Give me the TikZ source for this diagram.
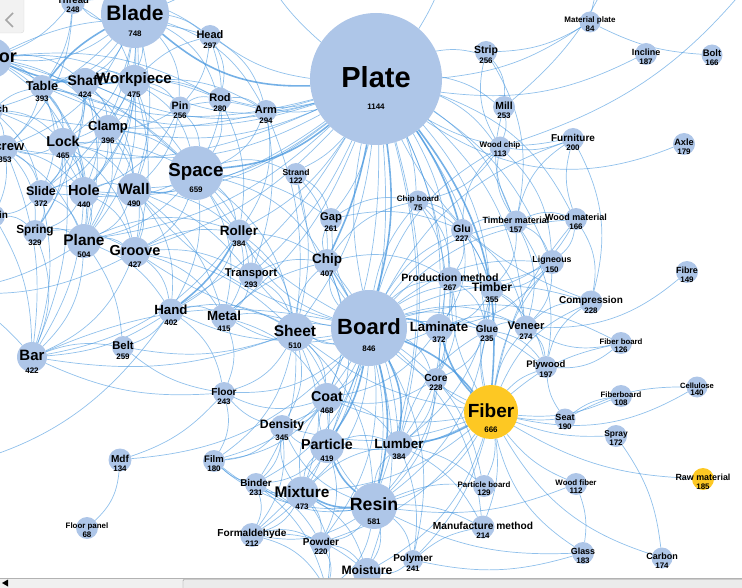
\documentclass[tikz,border=0pt]{standalone}
\usepackage{fontspec}
\setmainfont{Liberation Sans}
\usetikzlibrary{positioning}
\definecolor{termblue}{RGB}{174,198,232}
\definecolor{termgold}{RGB}{253,200,35}
\definecolor{linkblue}{RGB}{70,150,222}
\pgfdeclarelayer{links}
\pgfdeclarelayer{labels}
\pgfdeclarelayer{chrome}
\pgfsetlayers{links,main,labels,chrome}
\tikzset{
  term/.style={circle, inner sep=0pt, outer sep=0pt},
  termlabel/.style={inner sep=0pt, text=black},
  termcount/.style={inner sep=0pt, text=black, font=\bfseries\fontsize{8}{8}\selectfont},
  link/.style={draw=linkblue, line width=0.7pt, opacity=0.6},
  heavylink/.style={link, line width=1.6pt, opacity=0.75},
}
% term: [fill]{name}{x}{y}{radius}{label}{count}{label size}
\newcommand{\term}[8][termblue]{%
  \node[term, fill=#1, minimum size={2*#5*1pt}] (#2) at (#3,#4) {};
  \pgfmathsetmacro{\cntdrop}{1.5-#8}
  \begin{pgfonlayer}{labels}
    \node[termlabel, font=\bfseries\fontsize{#8}{#8}\selectfont] (#2-lbl) at ([yshift=1.5pt]#2.center) {#6};
    \if\relax\detokenize{#7}\relax\else
      \node[termcount] (#2-cnt) at ([yshift=\cntdrop pt]#2.center) {#7};
    \fi
  \end{pgfonlayer}
}

\begin{document}
\begin{tikzpicture}[x=1pt, y=-1pt]
\useasboundingbox (0,0) rectangle (742,588);
\clip (0,0) rectangle (742,588);
    % define terms
    % tools
    \term{thread}{73}{2}{12}{Thread}{248}{9.5}
    \term{blade}{135}{14}{34}{Blade}{748}{21}
    \term{motor}{-8}{58}{20}{Motor}{}{18}
    \term{table}{42}{87}{12}{Table}{393}{12.8}
    \term{shaft}{85}{82}{14}{Shaft}{424}{14}
    \term{workpiece}{134}{81}{16}{Workpiece}{475}{15}
    \term{head}{210}{36}{11}{Head}{297}{11}
    \term{pin}{180}{107}{10.5}{Pin}{256}{10.7}
    \term{rod}{220}{99}{11.5}{Rod}{280}{11}
    \term{arm}{266}{111}{11}{Arm}{294}{11}
    \term{switch}{-8}{110}{11}{Switch}{}{10}
    \term{clamp}{108}{129}{14}{Clamp}{396}{13}
    \term{lock}{63}{143}{15}{Lock}{465}{14.3}
    \term{screw}{5}{148}{13}{Screw}{353}{13}
    \term{space}{196}{173}{27}{Space}{659}{18.7}
    \term{strand}{296}{174}{11}{Strand}{122}{8.5}
    \term{slide}{41}{193}{13}{Slide}{372}{12.5}
    \term{hole}{84}{192}{15}{Hole}{440}{14.6}
    \term{wall}{134}{190}{17}{Wall}{490}{15.4}
    \term{chain}{-6}{216}{11}{Chain}{}{10}
    \term{spring}{35}{232}{12}{Spring}{329}{11.8}
    \term{plane}{84}{241}{17}{Plane}{504}{15.4}
    \term{groove}{135}{252}{15}{Groove}{427}{14.5}
    \term{roller}{239}{232}{12.5}{Roller}{384}{13.5}
    \term{transport}{251}{275}{12.5}{Transport}{293}{11.3}
    \term{hand}{171}{311}{12.5}{Hand}{402}{13.3}
    \term{metal}{224}{317}{13}{Metal}{415}{13.3}
    \term{bar}{32}{357}{15}{Bar}{422}{15}
    \term{belt}{123}{347}{11}{Belt}{259}{11.3}
    % plate
    \term{plate}{376}{79}{66}{Plate}{1144}{29}
    \term{strip}{486}{52}{11}{Strip}{256}{10.5}
    \term{mill}{504}{107}{11}{Mill}{253}{10.4}
    \term{woodchip}{500}{147}{10.5}{Wood chip}{113}{8}
    \term{furniture}{573}{139}{11}{Furniture}{200}{10}
    \term{matplate}{590}{22}{10.5}{Material plate}{84}{8}
    \term{incline}{646}{54}{11}{Incline}{187}{9}
    \term{bolt}{712}{55}{10.5}{Bolt}{166}{9.5}
    \term{axle}{684}{144}{11}{Axle}{179}{9.2}
    % board
    \term{chipboard}{418}{201}{10.5}{Chip board}{75}{8}
    \term{gap}{331}{219}{11}{Gap}{261}{11.2}
    \term{chip}{327}{262}{13}{Chip}{407}{13.5}
    \term{glu}{462}{230}{11}{Glu}{227}{10.4}
    \term{timbermat}{516}{222}{11.5}{Timber material}{157}{9}
    \term{woodmat}{576}{219}{11}{Wood material}{166}{9}
    \term{ligneous}{552}{262}{12}{Ligneous}{150}{8.8}
    \term{prodmethod}{450}{279}{12}{Production method}{267}{10.6}
    \term{timber}{492}{289}{11.5}{Timber}{355}{12.2}
    \term{fibre}{687}{272}{11}{Fibre}{149}{8.9}
    \term{compression}{591}{302}{11.5}{Compression}{228}{10}
    \term{board}{369}{328}{38}{Board}{846}{22}
    \term{sheet}{295}{332}{19}{Sheet}{510}{15.5}
    \term{laminate}{439}{328}{14}{Laminate}{372}{13.3}
    \term{glue}{487}{330}{11}{Glue}{235}{10}
    \term{veneer}{526}{327}{11.5}{Veneer}{274}{11.2}
    \term{plywood}{546}{367}{11}{Plywood}{197}{9.5}
    \term{fiberbd}{621}{343}{11}{Fiber board}{126}{7.8}
    \term{floor}{224}{393}{11}{Floor}{243}{10.1}
    \term{core}{436}{379}{11}{Core}{228}{10.2}
    % fiber
    \term[termgold]{fiber}{491}{412}{27}{Fiber}{666}{19}
    \term{coat}{327}{398}{15}{Coat}{468}{14.3}
    \term{density}{282}{427}{12}{Density}{345}{12.2}
    \term{particle}{327}{446}{17}{Particle}{419}{14.3}
    \term{lumber}{399}{445}{14}{Lumber}{384}{13.4}
    \term{fiberboard}{621}{396}{11}{Fiberboard}{108}{7.8}
    \term{cellulose}{697}{387}{10.5}{Cellulose}{140}{7.6}
    \term{seat}{565}{419}{10.5}{Seat}{190}{9}
    \term{spray}{616}{436}{11}{Spray}{172}{8.4}
    \term{partboard}{484}{486}{11}{Particle board}{129}{7.9}
    \term{woodfiber}{576}{484}{11}{Wood fiber}{112}{7.9}
    \term[termgold]{rawmat}{703}{479}{11}{Raw material}{185}{8.9}
    \term{glass}{583}{553}{11}{Glass}{183}{8.9}
    \term{carbon}{662}{558}{10.5}{Carbon}{174}{9}
    \term{manumethod}{483}{527}{11.5}{Manufacture method}{214}{10.2}
    % resin
    \term{mdf}{120}{460}{11.5}{Mdf}{134}{10.1}
    \term{floorpanel}{87}{528}{11}{Floor panel}{68}{7.9}
    \term{film}{214}{461}{11}{Film}{180}{9.5}
    \term{binder}{256}{484}{11}{Binder}{231}{9.9}
    \term{mixture}{302}{493}{16.5}{Mixture}{473}{15.4}
    \term{resin}{374}{506}{23}{Resin}{581}{17.7}
    \term{formaldehyde}{252}{535}{12}{Formaldehyde}{212}{10.1}
    \term{powder}{321}{543}{11}{Powder}{220}{10}
    \term{polymer}{413}{560}{10}{Polymer}{241}{10}
    \term{moisture}{367}{572}{14}{Moisture}{}{12.2}
    \node[term, fill=termblue, minimum size=24pt] (lowterm) at (327,590) {};
    % ends of links that leave the window
    \coordinate (offnw) at (250,-60);
    \coordinate (offn) at (450,-70);
    \coordinate (offne) at (620,-50);
    \coordinate (offfar) at (760,-30);
    \coordinate (offw) at (-60,290);
    \coordinate (offsw) at (-60,470);
    % draw links
    \begin{pgfonlayer}{links}
    \foreach \a/\b/\c in {
        blade/thread/15, blade/motor/15, blade/table/15, blade/shaft/10, blade/workpiece/10,
        blade/head/10, blade/pin/15, blade/rod/15, blade/arm/15, blade/lock/15, blade/clamp/10,
        blade/wall/10, blade/hole/15, blade/slide/15, blade/plane/10, blade/screw/15, blade/switch/10,
        thread/motor/10, thread/table/10, thread/workpiece/15, thread/head/15, thread/screw/15,
        motor/table/10, motor/shaft/15, motor/lock/15, motor/clamp/15, motor/workpiece/10,
        motor/space/10, motor/head/15, motor/rod/12, motor/hole/15,
        table/shaft/15, table/workpiece/10, table/lock/15, table/clamp/15, table/slide/15,
        table/hole/12, table/screw/10, table/space/12, table/plane/15,
        shaft/workpiece/20, shaft/lock/15, shaft/hole/15, shaft/clamp/15, shaft/plane/10,
        shaft/wall/15, shaft/slide/15, shaft/spring/10, shaft/rod/10, shaft/space/12,
        workpiece/clamp/15, workpiece/lock/15, workpiece/pin/15, workpiece/rod/10, workpiece/wall/15,
        workpiece/space/15, workpiece/hole/12, workpiece/plane/15, workpiece/head/10,
        workpiece/arm/12, workpiece/groove/10,
        head/rod/15, head/arm/15, head/pin/12, head/space/15,
        pin/rod/15, pin/arm/10, pin/space/15, pin/clamp/10, pin/wall/12, pin/hole/15,
        rod/arm/15, rod/space/15, rod/roller/12, arm/space/15, arm/roller/15, arm/sheet/10, arm/transport/10,
        switch/lock/15, switch/table/10, switch/screw/10, switch/slide/12, switch/hole/15,
        clamp/lock/15, clamp/wall/15, clamp/hole/15, clamp/space/12, clamp/slide/15,
        clamp/groove/15, clamp/plane/15,
        lock/screw/15, lock/hole/15, lock/slide/15, lock/plane/15, lock/spring/12, lock/wall/15,
        lock/groove/15, lock/space/10, lock/bar/10,
        screw/slide/15, screw/spring/15, screw/chain/10, screw/hole/12, screw/plane/12, screw/bar/10,
        space/wall/15, space/groove/15, space/roller/15, space/strand/15, space/hole/12,
        space/transport/12, space/hand/12, space/gap/10, space/chip/15, space/sheet/15,
        space/metal/15, space/plane/12,
        slide/hole/15, slide/spring/15, slide/plane/15, slide/bar/10, slide/chain/12,
        hole/wall/15, hole/plane/15, hole/spring/15, hole/groove/15, hole/bar/10,
        wall/groove/15, wall/plane/15, wall/roller/12, wall/hand/15, wall/metal/12, wall/transport/10,
        chain/spring/15, chain/bar/10, spring/plane/15, spring/bar/15, spring/groove/12,
        plane/groove/15, plane/bar/15, plane/hand/12, plane/roller/15, plane/belt/10,
        groove/hand/15, groove/bar/15, groove/roller/12, groove/transport/12, groove/metal/15, groove/sheet/12,
        roller/transport/15, roller/hand/15, roller/metal/15, roller/sheet/15, roller/chip/10,
        transport/metal/15, transport/sheet/15, transport/chip/12,
        hand/bar/10, hand/metal/15, hand/belt/12, hand/sheet/15, hand/floor/15,
        metal/sheet/15, metal/floor/15, metal/coat/15, metal/chip/10,
        bar/belt/10, bar/floor/-10, bar/sheet/-10, bar/roller/-15, belt/floor/-10, belt/sheet/-10,
        strand/gap/15, strand/chip/15, strand/sheet/10,
        plate/workpiece/15, plate/head/10, plate/rod/10, plate/arm/8, plate/shaft/15, plate/table/15,
        plate/lock/15, plate/clamp/12, plate/wall/12, plate/hole/15, plate/slide/15, plate/plane/12,
        plate/groove/10, plate/motor/15, plate/screw/12, plate/strand/8, plate/roller/10, plate/gap/8,
        plate/chipboard/6, plate/board/-8, plate/prodmethod/10, plate/timbermat/12, plate/woodmat/15,
        plate/laminate/10, plate/strip/8, plate/mill/10, plate/woodchip/10, plate/furniture/-15,
        plate/matplate/-10, plate/incline/-12, plate/axle/-20, plate/sheet/10, plate/coat/8,
        plate/particle/10, plate/resin/12, plate/lumber/10, plate/veneer/15, plate/ligneous/12,
        plate/timber/12, plate/compression/-15, plate/glue/10, plate/core/12, plate/transport/8,
        plate/metal/10, plate/hand/10, plate/switch/10, plate/offnw/10, plate/offn/-10, blade/offnw/-10,
        matplate/bolt/-8, matplate/offne/10, strip/matplate/-10, mill/offne/-10, woodchip/offfar/-12,
        board/sheet/15, board/chip/15, board/gap/10, board/chipboard/10, board/glu/12,
        board/prodmethod/15, board/timber/15, board/timbermat/15, board/glue/15, board/veneer/15,
        board/plywood/15, board/core/15, board/coat/15, board/density/15, board/floor/15,
        board/film/15, board/binder/15, board/formaldehyde/12, board/partboard/15, board/manumethod/15,
        board/metal/15, board/hand/12, board/transport/15, board/roller/15, board/strand/10,
        board/woodchip/15, board/furniture/15, board/ligneous/15, board/fiberbd/15, board/compression/15,
        board/mdf/15, board/powder/15, board/polymer/15, board/moisture/12, board/woodmat/15,
        board/mixture/15, board/space/10, board/wall/12, board/groove/10, board/bar/-12,
        sheet/chip/15, sheet/coat/15, sheet/density/15, sheet/particle/15, sheet/mixture/15,
        sheet/floor/15, sheet/film/15, sheet/laminate/-15, sheet/resin/15, sheet/binder/12,
        chip/gap/15, chip/particle/15, chip/coat/15, chip/resin/15, chip/chipboard/15,
        chip/prodmethod/15, chip/lumber/12,
        gap/chipboard/15, gap/glu/12,
        chipboard/glu/15, chipboard/prodmethod/15, chipboard/timber/15, chipboard/laminate/15,
        glu/timbermat/15, glu/prodmethod/15, glu/laminate/15, glu/glue/15, glu/woodchip/15, glu/veneer/15,
        timbermat/woodmat/15, timbermat/ligneous/15, timbermat/timber/15, timbermat/veneer/15,
        timbermat/plywood/15, timbermat/woodchip/15, timbermat/mill/15, timbermat/furniture/15,
        woodmat/ligneous/15, woodmat/compression/15, woodmat/timber/15, woodmat/furniture/12,
        ligneous/timber/15, ligneous/veneer/15, ligneous/prodmethod/12, ligneous/laminate/15,
        prodmethod/timber/15, prodmethod/laminate/15, prodmethod/glue/15, prodmethod/core/15,
        prodmethod/lumber/12,
        timber/laminate/15, timber/glue/15, timber/veneer/15, timber/lumber/15, timber/plywood/15,
        laminate/glue/15, laminate/core/15, laminate/veneer/15, laminate/coat/15, laminate/resin/15,
        glue/veneer/15, glue/plywood/15, glue/core/15, glue/resin/15,
        veneer/plywood/15, veneer/fiberbd/-15, veneer/fibre/-15, veneer/compression/15,
        plywood/fiberbd/-15, plywood/compression/15,
        core/lumber/15, core/coat/15, core/resin/15,
        mill/woodchip/10, woodchip/furniture/-10, woodchip/strip/15, woodchip/chipboard/15,
        woodchip/ligneous/15, strip/mill/15, strip/timbermat/15, furniture/compression/15,
        fiber/rawmat/-10, fiber/cellulose/-15, fiber/fiberboard/-10, fiber/seat/-5, fiber/spray/-8,
        fiber/woodfiber/-10, fiber/carbon/-15, fiber/glass/-15, fiber/partboard/10, fiber/manumethod/10,
        fiber/compression/15, fiber/fiberbd/10, fiber/plywood/10, fiber/veneer/10, fiber/glue/10,
        fiber/core/10, fiber/resin/15, fiber/particle/12, fiber/coat/12, fiber/mixture/12,
        fiber/polymer/10, fiber/timber/10, fiber/prodmethod/10, fiber/woodmat/10, fiber/ligneous/10,
        fiber/density/12, fiber/sheet/10, fiber/chip/12, fiber/powder/12, fiber/moisture/15,
        seat/fiberboard/10, seat/cellulose/10, seat/plywood/10, spray/carbon/10, woodfiber/glass/10,
        resin/mixture/15, resin/coat/15, resin/powder/15, resin/polymer/15, resin/moisture/15,
        resin/formaldehyde/15, resin/binder/15, resin/density/15, resin/lumber/15, resin/film/15,
        resin/lowterm/15, resin/glass/-10, resin/manumethod/10, resin/partboard/10, resin/woodfiber/-10,
        mixture/particle/15, mixture/coat/15, mixture/binder/15, mixture/formaldehyde/15,
        mixture/powder/15, mixture/moisture/15, mixture/density/15, mixture/film/15,
        mixture/lowterm/15, mixture/lumber/12,
        particle/coat/15, particle/density/15, particle/lumber/15, particle/binder/15,
        particle/powder/15, particle/formaldehyde/12,
        coat/density/15, coat/lumber/15, coat/film/15, coat/floor/15,
        density/binder/15, density/film/15, density/floor/12, density/formaldehyde/15,
        binder/formaldehyde/15, binder/film/10, binder/powder/12, binder/lowterm/12,
        formaldehyde/powder/15, formaldehyde/lowterm/15, formaldehyde/moisture/15,
        powder/moisture/15, powder/lowterm/15, polymer/moisture/15, polymer/glass/-10,
        polymer/manumethod/10, lumber/polymer/10, lumber/partboard/10, lumber/manumethod/12,
        lumber/glue/15, mdf/floorpanel/15, mdf/floor/-10, floor/film/15,
        offw/plane/-10, offw/groove/-12, offsw/hand/-15, offw/bar/10}
      \draw[link] (\a) to[bend left={1.4*\c}] (\b);
    \foreach \a/\b/\c in {
        plate/board/8, board/fiber/10, plate/fiber/15, board/resin/10, plate/space/12,
        plate/blade/15, board/lumber/12, fiber/lumber/8, board/particle/8, plate/chip/5,
        board/laminate/10, fiber/laminate/10, resin/particle/10, plate/glu/6, blade/table/-8,
        motor/workpiece/-10, hand/roller/-8, mixture/resin/-10}
      \draw[heavylink] (\a) to[bend left={1.4*\c}] (\b);
    \end{pgfonlayer}
    % add window parts
    \begin{pgfonlayer}{chrome}
    \draw[fill=black!5, draw=black!15, rounded corners=3pt] (-5,-5) rectangle (24,33);
    \draw[black!35, line width=1.6pt] (13,13) -- (6,20) -- (13,27);
    \fill[black!6] (0,578) rectangle (742,588);
    \draw[black!30] (0,578) -- (742,578);
    \draw[fill=black!8, draw=black!45, rounded corners=1pt] (183,579.5) rectangle (746,592);
    \fill[black] (2,583) -- (8,579.5) -- (8,586.5) -- cycle;
    \end{pgfonlayer}
\end{tikzpicture}
\end{document}
